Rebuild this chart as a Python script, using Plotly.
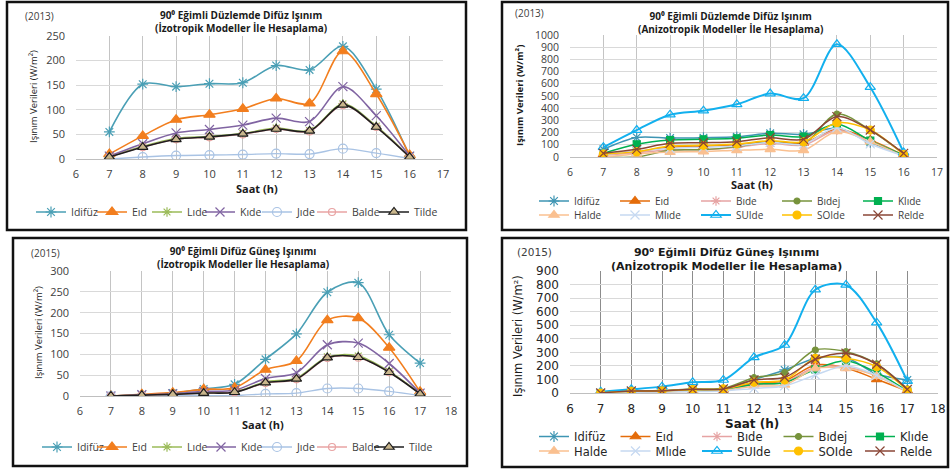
import plotly.graph_objects as go

W, H = 951, 470


def fx(px):
    return px / W


def fy(py):
    return 1 - py / H


# ---------------- data ----------------
hours_2013 = [7, 8, 9, 10, 11, 12, 13, 14, 15, 16]
hours_2015 = [7, 8, 9, 10, 11, 12, 13, 14, 15, 16, 17]

# 2013, isotropic models
idifuz_13i = [55, 152, 147, 153, 155, 190, 181, 229, 142, 6]
eid_13i = [10, 47, 80, 90, 102, 123, 113, 219, 132, 8]
lide_13i = [5, 26, 42, 46, 52, 63, 58, 112, 67, 5]
kide_13i = [6, 31, 53, 60, 69, 83, 76, 147, 88, 6]
jide_13i = [0, 4, 7, 8, 9, 11, 10, 21, 12, 1]
balde_13i = [4, 24, 40, 44, 50, 61, 56, 109, 65, 4]
tilde_13i = [4, 24, 40, 45, 51, 61, 57, 110, 65, 4]

# 2013, anisotropic models
idifuz_13a = [63, 160, 155, 158, 165, 194, 186, 235, 120, 15]
eid_13a = [20, 45, 80, 90, 100, 125, 115, 230, 140, 15]
bide_13a = [15, 35, 57, 60, 79, 112, 98, 220, 130, 10]
bidej_13a = [0, 0, 55, 60, 85, 125, 110, 352, 220, 25]
klide_13a = [30, 104, 139, 145, 153, 180, 167, 270, 134, 15]
halde_13a = [0, 25, 40, 44, 55, 63, 55, 210, 125, 5]
mlide_13a = [20, 50, 70, 80, 90, 120, 105, 240, 107, 10]
suide_13a = [80, 221, 347, 380, 432, 520, 482, 924, 572, 38]
soide_13a = [25, 44, 90, 96, 107, 134, 125, 281, 221, 20]
relde_13a = [30, 63, 112, 117, 125, 158, 145, 331, 221, 30]

# 2015, isotropic models
idifuz_15i = [0, 3, 7, 17, 28, 88, 149, 249, 272, 147, 79]
eid_15i = [0, 4, 8, 16, 20, 63, 84, 182, 187, 116, 10]
lide_15i = [0, 2, 4, 8, 10, 34, 43, 94, 96, 59, 6]
kide_15i = [0, 3, 5, 11, 14, 42, 56, 123, 127, 78, 7]
jide_15i = [0, 0, 1, 1, 1, 5, 7, 18, 18, 11, 1]
balde_15i = [0, 2, 4, 7, 9, 31, 40, 91, 92, 57, 5]
tilde_15i = [0, 2, 4, 7, 9, 32, 41, 92, 93, 57, 5]

# 2015, anisotropic models
idifuz_15a = [0, 10, 15, 25, 30, 100, 170, 255, 260, 140, 96]
eid_15a = [0, 10, 12, 20, 25, 70, 90, 206, 185, 101, 15]
bide_15a = [0, 8, 10, 18, 22, 60, 80, 190, 190, 130, 10]
bidej_15a = [0, 15, 18, 30, 35, 113, 150, 317, 305, 215, 30]
klide_15a = [0, 8, 10, 15, 20, 65, 76, 175, 238, 150, 15]
halde_15a = [0, 5, 8, 12, 18, 50, 60, 180, 182, 125, 5]
mlide_15a = [0, 5, 8, 10, 15, 34, 52, 133, 200, 130, 10]
suide_15a = [10, 27, 47, 79, 96, 263, 354, 762, 797, 519, 88]
soide_15a = [0, 12, 15, 25, 30, 80, 96, 256, 256, 194, 20]
relde_15a = [0, 15, 15, 27, 30, 96, 116, 249, 293, 212, 27]

iso_names = ["Idifüz", "Eıd", "Lıde", "Kıde", "Jıde", "Balde", "Tilde"]
aniso_names = ["Idifüz", "Eıd", "Bıde", "Bıdej", "Klıde",
               "Halde", "Mlıde", "SUIde", "SOIde", "Relde"]

# ---------------- series styles ----------------
iso_style = {
    "Idifüz": dict(color="#4A9FB5", symbol="asterisk-open", size=9, fill=None, lw=1.6),
    "Eıd": dict(color="#F27E1E", symbol="triangle-up", size=10, fill=None, lw=1.6),
    "Lıde": dict(color="#9BBB59", symbol="asterisk-open", size=8, fill=None, lw=1.4),
    "Kıde": dict(color="#8064A2", symbol="x-thin-open", size=9, fill=None, lw=1.6),
    "Jıde": dict(color="#A9C3E4", symbol="circle-open", size=9, fill=None, lw=1.4),
    "Balde": dict(color="#E8A3A3", symbol="circle-open", size=7, fill=None, lw=1.4),
    "Tilde": dict(color="#1E1E1E", symbol="triangle-up", size=9, fill="#C9B68C", lw=1.6),
}
aniso_style = {
    "Idifüz": dict(color="#3E95B3", symbol="asterisk-open", size=9, fill=None, lw=1.5),
    "Eıd": dict(color="#E46C0A", symbol="triangle-up", size=9, fill=None, lw=1.5),
    "Bıde": dict(color="#E6A3A3", symbol="asterisk-open", size=8, fill=None, lw=1.5),
    "Bıdej": dict(color="#77933C", symbol="circle", size=6, fill=None, lw=1.5),
    "Klıde": dict(color="#00B050", symbol="square", size=7, fill=None, lw=1.5),
    "Halde": dict(color="#FAC090", symbol="triangle-up", size=9, fill=None, lw=1.5),
    "Mlıde": dict(color="#C6D9F1", symbol="x-thin-open", size=9, fill=None, lw=1.5),
    "SUIde": dict(color="#12B0EE", symbol="triangle-up-open", size=9, fill=None, lw=2.0),
    "SOIde": dict(color="#FFC000", symbol="circle", size=8, fill=None, lw=1.5),
    "Relde": dict(color="#8A4636", symbol="x-thin-open", size=9, fill=None, lw=1.5),
}

# ---------------- panel geometry (pixels) ----------------
panels = [
    dict(ax="", x0=76, x1=443, y0=36, y1=159, xr=[6, 17], yr=[0, 250], dy=50,
         tick_font=dict(family="Open Sans", size=11, color="#404040"),
         vgrid="#C4C4C4"),
    dict(ax="2", x0=570, x1=937, y0=35, y1=157, xr=[6, 17], yr=[0, 1000], dy=100,
         tick_font=dict(family="Open Sans", size=10.5, color="#404040"),
         vgrid="#C4C4C4"),
    dict(ax="3", x0=80, x1=451, y0=271, y1=396, xr=[6, 18], yr=[0, 300], dy=50,
         tick_font=dict(family="Open Sans", size=11, color="#404040"),
         vgrid="#C4C4C4"),
    dict(ax="4", x0=570, x1=938, y0=271, y1=393, xr=[6, 18], yr=[0, 900], dy=100,
         tick_font=dict(family="DejaVu Sans", size=12, color="#262626"),
         vgrid="#8C8C8C"),
]

small = dict(family="Open Sans", size=10.5, color="#404040")
small2 = dict(family="Open Sans", size=10, color="#404040")
wide = dict(family="DejaVu Sans", size=11.5, color="#262626")

layout = dict(
    width=W, height=H, margin=dict(l=0, r=0, t=0, b=0, autoexpand=False),
    paper_bgcolor="white", plot_bgcolor="white", showlegend=True,
)

legend_count = [0]


def new_legend(text_x, y_px, font, entry=0):
    """Create a horizontal legend whose first label starts near text_x."""
    legend_count[0] += 1
    lid = "legend" if legend_count[0] == 1 else "legend%d" % legend_count[0]
    layout[lid] = dict(orientation="h", x=fx(text_x - 36), y=fy(y_px),
                       xanchor="left", yanchor="middle",
                       bgcolor="rgba(0,0,0,0)", font=font, itemwidth=30,
                       entrywidth=entry, entrywidthmode="pixels", tracegroupgap=0,
                       itemclick=False, itemdoubleclick=False)
    return lid


fig = go.Figure()


def add_series(x, y, name, st, ax, legend):
    marker = dict(symbol=st["symbol"], size=st["size"], color=st["fill"] or st["color"],
                  line=dict(color=st["color"], width=1.2))
    fig.add_trace(go.Scatter(
        x=x, y=y, name=name, mode="lines+markers",
        line=dict(color=st["color"], width=st["lw"], shape="spline", smoothing=0.9),
        marker=marker,
        xaxis="x" + ax, yaxis="y" + ax, legend=legend,
    ))


# label start positions for the single-row legends of the isotropic panels
iso13_label_x = [67, 128, 183, 236, 293, 348, 410]
iso15_label_x = [73, 128, 183, 237, 293, 348, 405]

iso13 = [idifuz_13i, eid_13i, lide_13i, kide_13i, jide_13i, balde_13i, tilde_13i]
for n, v, lx in zip(iso_names, iso13, iso13_label_x):
    add_series(hours_2013, v, n, iso_style[n], "", new_legend(lx, 212, small))

row_a = new_legend(570, 201, small2, 36)
row_b = new_legend(570, 215, small2, 36)
aniso13 = [idifuz_13a, eid_13a, bide_13a, bidej_13a, klide_13a,
           halde_13a, mlide_13a, suide_13a, soide_13a, relde_13a]
for i, (n, v) in enumerate(zip(aniso_names, aniso13)):
    add_series(hours_2013, v, n, aniso_style[n], "2", row_a if i < 5 else row_b)

iso15 = [idifuz_15i, eid_15i, lide_15i, kide_15i, jide_15i, balde_15i, tilde_15i]
for n, v, lx in zip(iso_names, iso15, iso15_label_x):
    add_series(hours_2015, v, n, iso_style[n], "3", new_legend(lx, 447, small))

row_c = new_legend(570, 436.5, wide, 36.5)
row_d = new_legend(570, 451, wide, 36.5)
aniso15 = [idifuz_15a, eid_15a, bide_15a, bidej_15a, klide_15a,
           halde_15a, mlide_15a, suide_15a, soide_15a, relde_15a]
for i, (n, v) in enumerate(zip(aniso_names, aniso15)):
    add_series(hours_2015, v, n, aniso_style[n], "4", row_c if i < 5 else row_d)

for p in panels:
    a = p["ax"]
    layout["xaxis" + a] = dict(
        domain=[fx(p["x0"]), fx(p["x1"])], range=p["xr"], dtick=1, tick0=0,
        showgrid=True, gridcolor=p["vgrid"], gridwidth=1, zeroline=False,
        showline=True, linecolor="#BFBFBF", linewidth=1, ticks="",
        tickfont=p["tick_font"], ticklabelstandoff=5, anchor="y" + a, fixedrange=True,
    )
    layout["yaxis" + a] = dict(
        domain=[fy(p["y1"]), fy(p["y0"])], range=p["yr"], dtick=p["dy"], tick0=0,
        showgrid=True, gridcolor="#D9D9D9", gridwidth=1, zeroline=False,
        showline=False, ticks="", tickfont=p["tick_font"], ticklabelstandoff=10,
        anchor="x" + a, fixedrange=True,
    )

fig.update_layout(**layout)

# panel frames
frames = [(7, 2, 466, 230), (502, 2, 948, 230), (13, 238, 467, 466), (502, 238, 948, 467)]
for x0, y0, x1, y1 in frames:
    fig.add_shape(type="rect", xref="paper", yref="paper",
                  x0=fx(x0), x1=fx(x1), y0=fy(y1), y1=fy(y0),
                  line=dict(color="#111111", width=2.5), fillcolor="rgba(0,0,0,0)",
                  layer="above")


def note(text, x, y, font, angle=0, xanchor="center"):
    fig.add_annotation(text=text, x=fx(x), y=fy(y), xref="paper", yref="paper",
                       showarrow=False, font=font, textangle=angle,
                       xanchor=xanchor, yanchor="middle")


tfont = dict(family="Open Sans", size=10, color="#1A1A1A")
tfont4 = dict(family="DejaVu Sans", size=11, color="#1A1A1A")
yfont = dict(family="Open Sans", size=9.5, color="#1A1A1A")
yfont4 = dict(family="DejaVu Sans", size=11.5, color="#1A1A1A")
yearfont = dict(family="Open Sans", size=10, color="#404040")
yearfont4 = dict(family="DejaVu Sans", size=10.5, color="#404040")
xfont = dict(family="Open Sans", size=11, color="#1A1A1A")
xfont4 = dict(family="DejaVu Sans", size=12, color="#1A1A1A")

# panel 1
note("(2013)", 23, 16, yearfont, xanchor="left")
note("<b>90⁰ Eğimli Düzlemde Difüz Işınım<br>(İzotropik Modeller İle Hesaplama)</b>",
     241, 22, tfont)
note("Işınım Verileri (W/m²)", 33, 97, yfont, angle=-90)
note("<b>Saat (h)</b>", 257, 188, xfont)

# panel 2
note("(2013)", 513, 13, yearfont, xanchor="left")
note("<b>90⁰ Eğimli Düzlemde Difüz Işınım<br>(Anizotropik Modeller İle Hesaplama)</b>",
     730, 22.5, tfont)
note("<b>Işınım Verileri (W/m²)</b>", 520, 96, yfont, angle=-90)
note("<b>Saat (h)</b>", 752, 185, xfont)

# panel 3
note("(2015)", 29, 253, yearfont, xanchor="left")
note("<b>90⁰ Eğimli Difüz Güneş Işınımı<br>(İzotropik Modeller İle Hesaplama)</b>",
     243, 257, tfont)
note("Işınım Verileri (W/m²)", 38, 333, yfont, angle=-90)
note("<b>Saat (h)</b>", 263, 424.5, xfont)

# panel 4
note("(2015)", 515, 252, yearfont4, xanchor="left")
note("<b>90⁰ Eğimli Difüz Güneş Işınımı<br>(Anİzotropik Modeller İle Hesaplama)</b>",
     726, 259, tfont4)
note("Işınım Verileri (W/m²)", 518, 336, yfont4, angle=-90)
note("<b>Saat (h)</b>", 752, 424, xfont4)

fig.write_html("out.html")
